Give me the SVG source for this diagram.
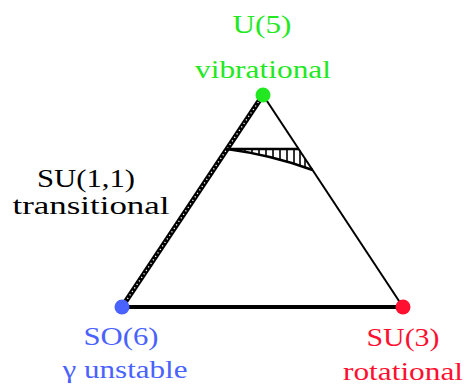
<svg xmlns="http://www.w3.org/2000/svg" width="467" height="387" viewBox="0 0 467 387">
<style>
.hatch{stroke:#000;stroke-width:1.6}
</style>
<defs>
<clipPath id="hc"><path d="M227,149 L299,149 L312.6,170 Q272,155 227,149 Z"/></clipPath>
</defs>
<rect width="467" height="387" fill="#fff"/>
<g id="connectors">
<line x1="263" y1="95" x2="403" y2="307" stroke="#000" stroke-width="2"/>
<line x1="122" y1="307" x2="403" y2="307" stroke="#000" stroke-width="4"/>
<line x1="263" y1="95" x2="122" y2="307" stroke="#000" stroke-width="5"/>
<line x1="263" y1="95" x2="122" y2="307" stroke="#fff" stroke-width="1.3" stroke-dasharray="1.2,3"/>
</g>
<g id="region">
<line x1="227" y1="149" x2="299" y2="149" stroke="#000" stroke-width="2.5"/>
<path d="M227,149 Q272,155 312.6,170" fill="none" stroke="#000" stroke-width="2.5"/>
<g clip-path="url(#hc)" class="hatch">
<line x1="238" y1="140" x2="238" y2="175"/>
<line x1="245" y1="140" x2="245" y2="175"/>
<line x1="252" y1="140" x2="252" y2="175"/>
<line x1="259" y1="140" x2="259" y2="175"/>
<line x1="266" y1="140" x2="266" y2="175"/>
<line x1="273" y1="140" x2="273" y2="175"/>
<line x1="280" y1="140" x2="280" y2="175"/>
<line x1="287" y1="140" x2="287" y2="175"/>
<line x1="294" y1="140" x2="294" y2="175"/>
<line x1="300" y1="140" x2="300" y2="175"/>
<line x1="305" y1="140" x2="305" y2="175"/>
</g>
</g>
<g id="U5">
<circle cx="263" cy="95" r="7.5" fill="#22e822"/>
<text x="232.5" y="33" font-family="Liberation Serif" font-size="25" fill="#22e822" textLength="59" lengthAdjust="spacingAndGlyphs">U(5)</text>
<text x="195" y="78" font-family="Liberation Serif" font-size="25" fill="#22e822" textLength="136" lengthAdjust="spacingAndGlyphs">vibrational</text>
</g>
<g id="SU11">
<text x="37" y="187" font-family="Liberation Serif" font-size="25" fill="#000" textLength="98" lengthAdjust="spacingAndGlyphs">SU(1,1)</text>
<text x="12.5" y="214" font-family="Liberation Serif" font-size="25" fill="#000" textLength="157" lengthAdjust="spacingAndGlyphs">transitional</text>
</g>
<g id="SO6">
<circle cx="122" cy="307" r="7.5" fill="#4a62ff"/>
<text x="83.5" y="345" font-family="Liberation Serif" font-size="25" fill="#4a62ff" textLength="75" lengthAdjust="spacingAndGlyphs">SO(6)</text>
<text x="62.5" y="378" font-family="Liberation Serif" font-size="25" fill="#4a62ff" textLength="125" lengthAdjust="spacingAndGlyphs">γ unstable</text>
</g>
<g id="SU3">
<circle cx="403" cy="307" r="7.5" fill="#ff1030"/>
<text x="366.5" y="346" font-family="Liberation Serif" font-size="25" fill="#ff1030" textLength="73" lengthAdjust="spacingAndGlyphs">SU(3)</text>
<text x="343" y="380" font-family="Liberation Serif" font-size="25" fill="#ff1030" textLength="120" lengthAdjust="spacingAndGlyphs">rotational</text>
</g>
</svg>
